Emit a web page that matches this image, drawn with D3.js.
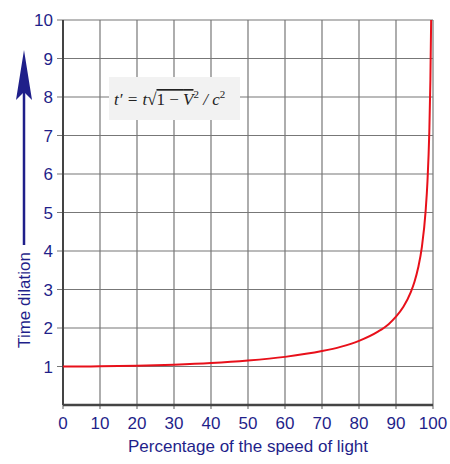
<!DOCTYPE html><html><head><meta charset="utf-8"><script src="https://cdn.jsdelivr.net/npm/d3@7"></script>
<style>body{margin:0;background:#fff}</style></head><body><svg id="c" width="450" height="464"></svg>
<script>
const xTicks=[0,10,20,30,40,50,60,70,80,90,100];
const yTicks=[1,2,3,4,5,6,7,8,9,10];
const speed=[0,10,20,30,40,50,60,70,75,80,85,88,90,92,94,95,96,97,98,98.5,99,99.3,99.5];
const dilation=[1,1.005,1.02,1.048,1.09,1.155,1.25,1.4,1.51,1.667,1.9,2.1,2.294,2.55,2.93,3.2,3.57,4.11,5.03,5.8,7.09,8.47,10];
const navy="#1f1f8a";
const svg=d3.select("#c");
const x=d3.scaleLinear().domain([0,100]).range([63,433]);
const y=d3.scaleLinear().domain([0,10]).range([405,20]);
const g=svg.append("g");
g.selectAll(".v").data(xTicks).join("line").attr("x1",d=>x(d)).attr("x2",d=>x(d)).attr("y1",y(10)).attr("y2",y(0)+4).attr("stroke","#777").attr("stroke-width",1.2);
g.selectAll(".h").data(yTicks).join("line").attr("x1",x(0)-6).attr("x2",x(100)).attr("y1",d=>y(d)).attr("y2",d=>y(d)).attr("stroke","#777").attr("stroke-width",1.2);
g.append("line").attr("x1",x(0)).attr("x2",x(0)).attr("y1",y(10)).attr("y2",y(0)).attr("stroke","#444").attr("stroke-width",2);
g.append("line").attr("x1",x(0)).attr("x2",x(100)).attr("y1",y(0)).attr("y2",y(0)).attr("stroke","#444").attr("stroke-width",2.5);
g.selectAll(".xl").data(xTicks).join("text").attr("x",d=>x(d)).attr("y",429).attr("text-anchor","middle").attr("fill",navy).attr("font-family","Liberation Sans, Arial").attr("font-size",17).text(d=>d);
g.selectAll(".yl").data(yTicks).join("text").attr("x",53).attr("y",d=>y(d)+6).attr("text-anchor","end").attr("fill",navy).attr("font-family","Liberation Sans, Arial").attr("font-size",17).text(d=>d);
svg.append("text").attr("x",x(50)).attr("y",452).attr("text-anchor","middle").attr("fill",navy).attr("font-family","Liberation Sans, Arial").attr("font-size",17).text("Percentage of the speed of light");
svg.append("text").attr("transform","translate(30,300) rotate(-90)").attr("text-anchor","middle").attr("fill",navy).attr("font-family","Liberation Sans, Arial").attr("font-size",17).text("Time dilation");
svg.append("line").attr("x1",24).attr("x2",24).attr("y1",245).attr("y2",90).attr("stroke",navy).attr("stroke-width",2.5);
svg.append("path").attr("d","M24,50 L16,100 L24,92 L32,100 Z").attr("fill",navy);
const fb=svg.append("g");
fb.append("rect").attr("x",109).attr("y",77).attr("width",131).attr("height",43).attr("fill","#f2f2f2");
const ft=fb.append("text").attr("x",114).attr("y",105).attr("font-family","Liberation Serif, Times New Roman").attr("font-style","italic").attr("font-size",17).attr("fill","#222");
ft.append("tspan").text("t′ = t");
ft.append("tspan").attr("font-style","normal").text("√");
ft.append("tspan").attr("font-style","normal").attr("text-decoration","overline").text("1 − ");
ft.append("tspan").attr("text-decoration","overline").text("V");
ft.append("tspan").attr("dy",-7).attr("font-size",11).attr("font-style","normal").text("2");
ft.append("tspan").attr("dy",7).text(" / c");
ft.append("tspan").attr("dy",-7).attr("font-size",11).attr("font-style","normal").text("2");
const pts=speed.map((s,i)=>[s,dilation[i]]);
svg.append("path").datum(pts).attr("d",d3.line().x(d=>x(d[0])).y(d=>y(d[1])).curve(d3.curveMonotoneX)).attr("fill","none").attr("stroke","#e8101a").attr("stroke-width",2);
</script></body></html>
